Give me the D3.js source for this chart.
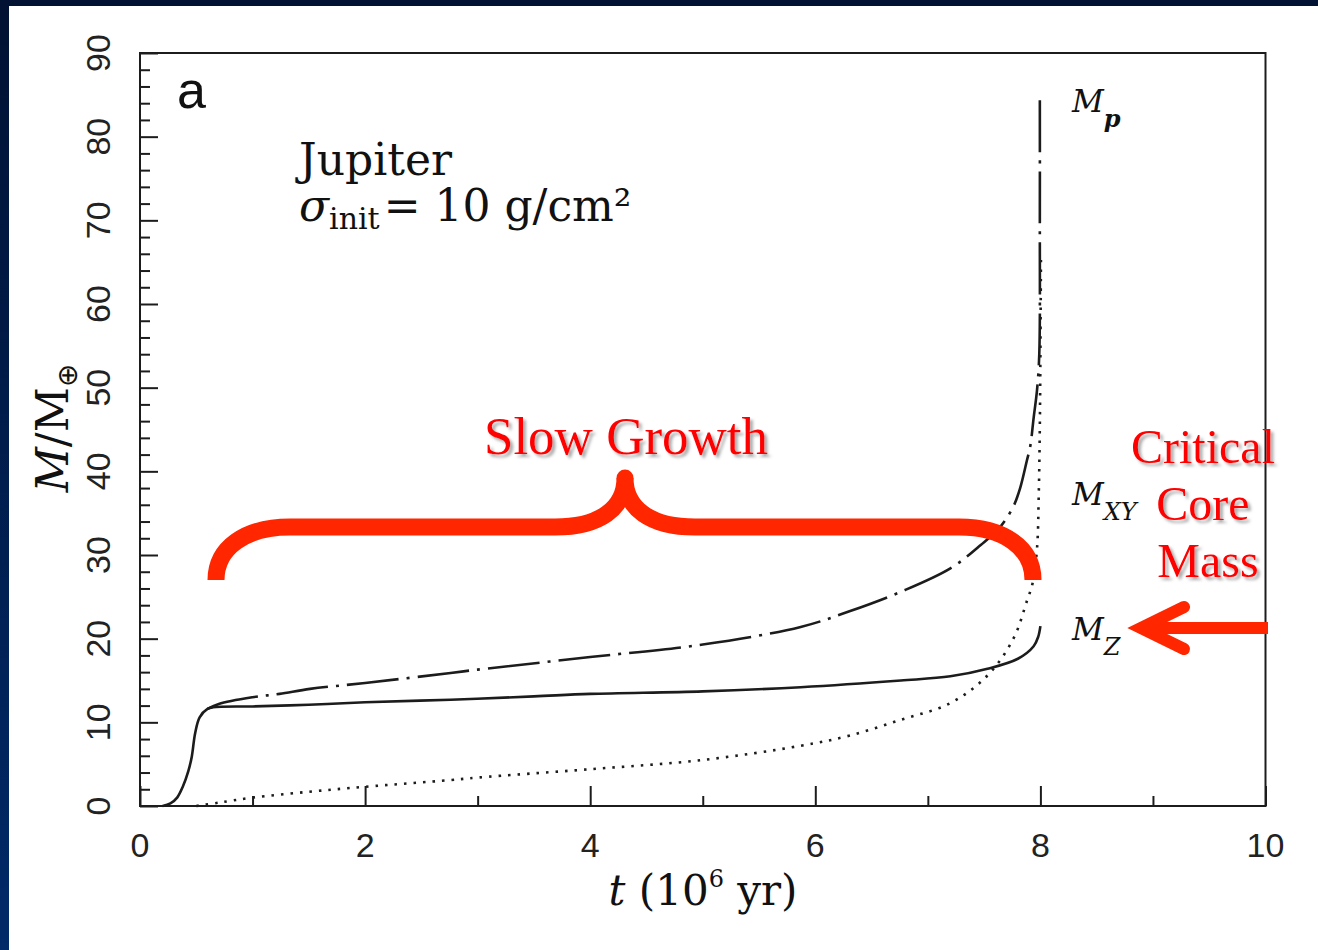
<!DOCTYPE html>
<html>
<head>
<meta charset="utf-8">
<script src="https://cdn.jsdelivr.net/npm/d3@7"></script>
<style>
  body { margin: 0; background: #fff; }
  svg { display: block; }
</style>
</head>
<body>
<svg id="chart" width="1318" height="950"></svg>
<script>
// Core accretion of Jupiter: masses in Earth masses vs time in 10^6 yr
const coreTime = [0.2, 0.27, 0.33, 0.38, 0.43, 0.46, 0.49, 0.53, 0.6, 0.65, 1.0, 1.5, 2.0, 2.76, 3.5, 4.0, 5.0, 5.87, 6.76, 7.2, 7.53, 7.8, 7.94, 7.98, 8.0];
const coreMass = [0, 0.3, 1.0, 2.3, 4.2, 5.9, 8.7, 10.6, 11.6, 11.8, 11.9, 12.1, 12.4, 12.7, 13.1, 13.4, 13.7, 14.2, 15.0, 15.5, 16.4, 17.6, 19.1, 20.2, 21.5];

const envTime = [0.5, 0.7, 1.0, 1.5, 2.0, 2.76, 3.0, 4.0, 5.0, 5.87, 6.3, 6.76, 7.2, 7.53, 7.76, 7.88, 7.93, 7.97, 7.985, 7.995, 8.0, 8.005];
const envMass = [0, 0.4, 1.0, 1.7, 2.3, 3.1, 3.4, 4.4, 5.5, 7.2, 8.4, 10.3, 12.3, 15.6, 20.0, 24.5, 26.6, 30.8, 37.0, 45.5, 54.0, 66.0];

const totalTime = [0.6, 0.7, 1.0, 1.24, 1.51, 2.0, 2.76, 3.0, 4.0, 5.0, 5.87, 6.31, 6.76, 7.2, 7.47, 7.64, 7.76, 7.82, 7.88, 7.91, 7.94, 7.97, 7.99, 7.995, 7.995];
const totalMass = [11.6, 12.2, 13.0, 13.4, 14.0, 14.7, 15.9, 16.3, 17.8, 19.3, 21.4, 23.3, 25.6, 28.4, 31.2, 33.3, 35.8, 38.0, 41.3, 43.0, 46.4, 49.7, 54.0, 70.0, 85.0];

const xMajorTicks = [0, 2, 4, 6, 8, 10];
const xMinorTicks = [1, 3, 5, 7, 9];
const yMajorTicks = [0, 10, 20, 30, 40, 50, 60, 70, 80, 90];
const yMinorTicks = [2, 4, 6, 8, 12, 14, 16, 18, 22, 24, 26, 28, 32, 34, 36, 38, 42, 44, 46, 48, 52, 54, 56, 58, 62, 64, 66, 68, 72, 74, 76, 78, 82, 84, 86, 88];

const svg = d3.select("#chart");
const W = 1318, H = 950;
const serif = "'DejaVu Serif', serif";
const sans = "'Liberation Sans', Arial, sans-serif";
const red = "#ff2600";
const ink = "#1c1c1c";

// slide background: navy frame around a white panel
const defs = svg.append("defs");
const bg = defs.append("linearGradient").attr("id", "navy").attr("x1", 0).attr("y1", 0).attr("x2", 0).attr("y2", 1);
bg.append("stop").attr("offset", 0).attr("stop-color", "#011233");
bg.append("stop").attr("offset", 1).attr("stop-color", "#002a68");
const shadow = defs.append("filter").attr("id", "shadow").attr("x", "-10%").attr("y", "-20%").attr("width", "130%").attr("height", "150%");
shadow.append("feDropShadow").attr("dx", 3).attr("dy", 3).attr("stdDeviation", 1.8)
  .attr("flood-color", "#666").attr("flood-opacity", 0.55);

svg.append("rect").attr("width", W).attr("height", H).attr("fill", "url(#navy)");
svg.append("rect").attr("x", 9).attr("y", 6).attr("width", W - 9).attr("height", H - 6).attr("fill", "#fff");

const x = d3.scaleLinear().domain([0, 10]).range([140, 1265.5]);
const y = d3.scaleLinear().domain([0, 90]).range([806, 53]);

// inward ticks
const g = svg.append("g");
g.append("g").attr("transform", `translate(0,${y(0)})`)
  .call(d3.axisBottom(x).tickValues(xMajorTicks).tickSize(-20).tickFormat(""));
g.append("g").attr("transform", `translate(0,${y(0)})`)
  .call(d3.axisBottom(x).tickValues(xMinorTicks).tickSize(-10).tickFormat(""));
g.append("g").attr("transform", `translate(${x(0)},0)`)
  .call(d3.axisLeft(y).tickValues(yMajorTicks).tickSize(-18).tickFormat(""));
g.append("g").attr("transform", `translate(${x(0)},0)`)
  .call(d3.axisLeft(y).tickValues(yMinorTicks).tickSize(-10).tickFormat(""));
g.selectAll(".domain").remove();
g.selectAll(".tick line").attr("stroke", ink).attr("stroke-width", 2);

// plot frame
svg.append("rect")
  .attr("x", x(0)).attr("y", y(90))
  .attr("width", x(10) - x(0)).attr("height", y(0) - y(90))
  .attr("fill", "none").attr("stroke", ink).attr("stroke-width", 2);

// tick labels
svg.append("g").selectAll("text").data(xMajorTicks).join("text")
  .attr("x", d => x(d)).attr("y", 857)
  .attr("text-anchor", "middle")
  .attr("font-family", sans).attr("font-size", 34).attr("fill", "#222")
  .text(d => d);
svg.append("g").selectAll("text").data(yMajorTicks).join("text")
  .attr("transform", d => `translate(110,${y(d)}) rotate(-90)`)
  .attr("text-anchor", "middle")
  .attr("font-family", sans).attr("font-size", 34).attr("fill", "#222")
  .text(d => d);

// axis titles
const xt = svg.append("text").attr("x", 703).attr("y", 905).attr("text-anchor", "middle")
  .attr("font-family", serif).attr("font-size", 42).attr("fill", "#111");
xt.append("tspan").attr("font-style", "italic").text("t");
xt.append("tspan").text(" (10");
xt.append("tspan").attr("font-size", 24).attr("dy", -18).text("6");
xt.append("tspan").attr("dy", 18).text(" yr)");

const yt = svg.append("text").attr("transform", "translate(68,428) rotate(-90)").attr("text-anchor", "middle")
  .attr("font-family", serif).attr("font-size", 44).attr("fill", "#111");
yt.append("tspan").attr("font-style", "italic").text("M");
yt.append("tspan").text("/M");
yt.append("tspan").attr("font-size", 28).attr("dy", 9).attr("font-family", "'DejaVu Sans', sans-serif").text("⊕");

// curves
const line = d3.line().x(d => x(d[0])).y(d => y(d[1])).curve(d3.curveCatmullRom.alpha(0.5));
const pairs = (ts, ms) => ts.map((t, i) => [t, ms[i]]);

svg.append("path").datum(pairs(envTime, envMass)).attr("d", line)
  .attr("fill", "none").attr("stroke", ink).attr("stroke-width", 2.6)
  .attr("stroke-dasharray", "2.5,7");
svg.append("path").datum(pairs(totalTime, totalMass)).attr("d", line)
  .attr("fill", "none").attr("stroke", ink).attr("stroke-width", 2.6)
  .attr("stroke-dasharray", "52,8,3,8");
svg.append("path").datum(pairs(coreTime, coreMass)).attr("d", line)
  .attr("fill", "none").attr("stroke", ink).attr("stroke-width", 2.6);

// panel text
svg.append("text").attr("x", 177).attr("y", 108)
  .attr("font-family", sans).attr("font-size", 52).attr("fill", "#111").text("a");
svg.append("text").attr("x", 299).attr("y", 175)
  .attr("font-family", serif).attr("font-size", 44).attr("fill", "#111").text("Jupiter");
const sig = svg.append("text").attr("x", 299).attr("y", 221)
  .attr("font-family", serif).attr("font-size", 44).attr("fill", "#111");
sig.append("tspan").attr("font-style", "italic").text("σ");
sig.append("tspan").attr("font-size", 30).attr("dy", 8).text("init");
sig.append("tspan").attr("dy", -8).attr("dx", 4).text("= 10 g/cm²");

// curve labels
function massLabel(px, py, sub, bold) {
  const t = svg.append("text").attr("x", px).attr("y", py)
    .attr("font-family", serif).attr("font-style", "italic").attr("font-size", 31).attr("fill", "#111");
  t.append("tspan").text("M");
  t.append("tspan").attr("font-size", 24).attr("dy", 15).attr("font-weight", bold ? "bold" : "normal").text(sub);
}
massLabel(1072, 112, "p", true);
massLabel(1072, 505, "XY", false);
massLabel(1072, 640, "Z", false);

// annotations
const brace = d3.path();
brace.moveTo(216, 580);
brace.bezierCurveTo(216, 548, 245, 527, 290, 527);
brace.lineTo(555, 527);
brace.bezierCurveTo(600, 527, 625, 508, 625, 478);
brace.moveTo(1033, 580);
brace.bezierCurveTo(1033, 548, 1004, 527, 959, 527);
brace.lineTo(695, 527);
brace.bezierCurveTo(650, 527, 625, 508, 625, 478);
svg.append("path").attr("d", brace.toString())
  .attr("fill", "none").attr("stroke", red).attr("stroke-width", 17);
svg.append("circle").attr("cx", 625).attr("cy", 478).attr("r", 8.5).attr("fill", red);

svg.append("line").attr("x1", 1268).attr("y1", 628).attr("x2", 1146).attr("y2", 628)
  .attr("stroke", red).attr("stroke-width", 12);
svg.append("path").attr("d", "M1184,607 L1141,628 L1184,649")
  .attr("fill", "none").attr("stroke", red).attr("stroke-width", 12)
  .attr("stroke-linecap", "round").attr("stroke-linejoin", "miter");

const redText = (px, py, s, size) => svg.append("text").attr("x", px).attr("y", py)
  .attr("text-anchor", "middle").attr("font-family", "'Liberation Serif', 'Times New Roman', serif")
  .attr("font-size", size).attr("fill", "#ff0000").attr("filter", "url(#shadow)").text(s);
redText(626, 454, "Slow Growth", 53);
redText(1203, 463, "Critical", 48);
redText(1203, 520, "Core", 48);
redText(1208, 577, "Mass", 48);
</script>
</body>
</html>
